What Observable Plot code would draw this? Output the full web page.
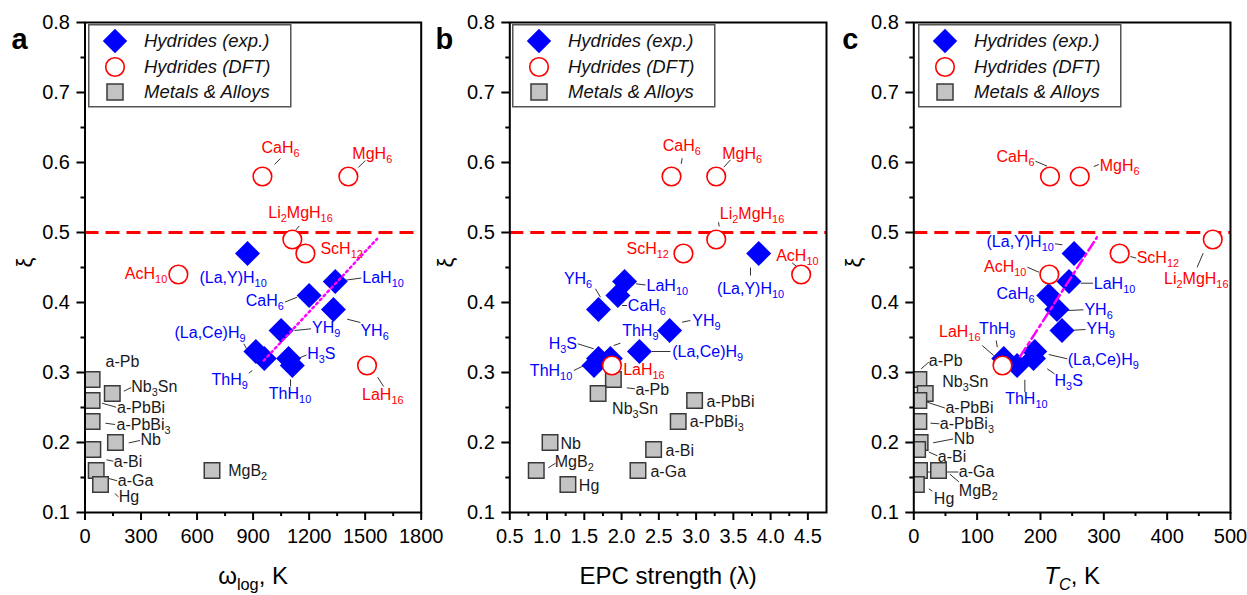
<!DOCTYPE html>
<html>
<head>
<meta charset="utf-8">
<script src="https://cdn.jsdelivr.net/npm/d3@7"></script>
<script src="https://cdn.jsdelivr.net/npm/@observablehq/plot@0.6"></script>
<style>
  html, body { margin: 0; padding: 0; background: white; }
  #wrap { position: relative; width: 1247px; height: 595px; overflow: hidden; background: white; }
</style>
</head>
<body>
<div id="wrap"></div>
<script>
// ---------- data ----------
const yTicks = [0.1, 0.2, 0.3, 0.4, 0.5, 0.6, 0.7, 0.8];
const yMinor = [0.15, 0.25, 0.35, 0.45, 0.55, 0.65, 0.75];
const omegaTicks = [0, 300, 600, 900, 1200, 1500, 1800];
const omegaMinor = [150, 450, 750, 1050, 1350, 1650];
const lambdaTicks = [0.5, 1, 1.5, 2, 2.5, 3, 3.5, 4, 4.5];
const lambdaMinor = [0.75, 1.25, 1.75, 2.25, 2.75, 3.25, 3.75, 4.25];
const tcTicks = [0, 100, 200, 300, 400, 500];
const tcMinor = [50, 150, 250, 350, 450];
const threshold = [0.5];
const legendLabels = ["Hydrides (exp.)", "Hydrides (DFT)", "Metals & Alloys"];

// Hydrides (exp.)
const expNames = ["(La,Y)H_{10}", "LaH_{10}", "CaH_{6}", "YH_{6}", "YH_{9}", "(La,Ce)H_{9}", "ThH_{9}", "H_{3}S", "ThH_{10}"];
const expXi     = [0.47, 0.43, 0.41, 0.39, 0.36, 0.33, 0.32, 0.32, 0.31];
const expOmega  = [870, 1340, 1200, 1330, 1050, 915, 960, 1090, 1110];
const expLambda = [3.84, 2.04, 1.95, 1.69, 2.645, 2.24, 1.85, 1.69, 1.63];
const expTc     = [253, 245, 213, 226, 234, 191, 142, 189, 163];

// Hydrides (DFT)
const dftNames  = ["CaH_{6}", "MgH_{6}", "Li_{2}MgH_{16}", "ScH_{12}", "AcH_{10}", "LaH_{16}"];
const dftXi     = [0.58, 0.58, 0.49, 0.47, 0.44, 0.31];
const dftOmega  = [950, 1410, 1110, 1180, 500, 1510];
const dftLambda = [2.67, 3.27, 3.27, 2.83, 4.41, 1.87];
const dftTc     = [215, 262, 472, 325, 214, 140];

// Metals & Alloys
const metNames  = ["a-Pb", "Nb_{3}Sn", "a-PbBi", "a-PbBi_{3}", "Nb", "a-Bi", "a-Ga", "Hg", "MgB_{2}"];
const metXi     = [0.29, 0.27, 0.26, 0.23, 0.20, 0.19, 0.16, 0.14, 0.16];
const metOmega  = [38, 146, 38, 38, 163, 42, 60, 83, 680];
const metLambda = [1.89, 1.685, 2.98, 2.76, 1.04, 2.43, 2.22, 1.28, 0.855];
const metTc     = [8, 18, 8, 8, 10, 6, 9, 4, 39];

// trend lines
const trendOmega = [957, 1564];
const trendOmegaXi = [0.317, 0.491];
const trendTc = [168, 289];
const trendTcXi = [0.323, 0.493];

// ---------- label placement (pixel offsets from the point: text dx,dy, anchor, leader) ----------
const layA_exp = [
  [-48, 24.7, "start", null],
  [27, -3.3, "start", [8, -1, 26, -3.5]],
  [-25.3, 5.7, "end", [-24, 6.5, -12, 1.7]],
  [27, 21, "start", [13.8, 9.7, 27, 13]],
  [31, -2.3, "start", [13.4, 0, 30, -1.7]],
  [-10.4, -18.3, "end", [-12, -7.7, -9.4, -2.7]],
  [-16.5, 21, "end", [-15.5, 14.7, -12, 12]],
  [18.6, -4.7, "start", [11, -0.7, 18, -3.5]],
  [-2.3, 28.3, "middle", [-1.8, 14, -1.8, 21]]
];
const layA_dft = [
  [-1, -29, "start", [12, -12, 18, -18]],
  [4, -23, "start", [10, -9, 17, -16]],
  [-24, -26.3, "start", [3, -9, 7, -13.6]],
  [15, -4.7, "start", null],
  [-11.2, -0.7, "end", null],
  [-5, 29.3, "start", [10.6, 11.7, 16.6, 21]]
];
const layA_met = [
  [13.4, -18, "start", null],
  [19, -6.3, "start", [11.6, -2.3, 19, -6]],
  [25, 7.7, "start", [10, 2.7, 24, 6.7]],
  [24.4, 3.3, "start", [13.3, 1.7, 23, 3]],
  [25, -2.7, "start", [13.3, 0.4, 24.5, -2]],
  [21, 12, "start", [13.7, 10.3, 20.5, 11.7]],
  [21.6, 10.7, "start", [12.6, 8, 21, 10.3]],
  [18.3, 12.7, "start", [14.3, 9, 18, 12.4]],
  [16.2, 0.7, "start", null]
];
const layB_exp = [
  [-8.2, 35.3, "middle", [-8.2, 14, -8.2, 22]],
  [22, 4, "start", [11.5, 2.3, 21, 3.5]],
  [10, 10, "start", [4.3, 10, 9.3, 10]],
  [-6.3, -30.7, "end", [-3, -20.7, 2, -12.3]],
  [22.6, -10, "start", [12.4, -8.3, 20.7, -10]],
  [32.7, 0, "start", [12.5, 0, 31, 0]],
  [11.8, -28, "start", [3.3, -13, 10, -15.3]],
  [-21.5, -14.7, "end", [-20.7, -14.7, -4.7, -9.7]],
  [-21.8, 5.7, "end", [-20.2, 5, -10, 0]]
];
const layB_dft = [
  [-8.7, -31, "start", [9.7, -12.7, 10.7, -18.3]],
  [6, -22.7, "start", [7.6, -9.3, 14.3, -16.7]],
  [3.6, -25.7, "start", [3, -13, 2.3, -17.3]],
  [-14.6, -4.7, "end", null],
  [-25, -19, "start", [-9, -11.6, -4, -7.6]],
  [11.3, 4.3, "start", null]
];
const layB_met = [
  [22, 10, "start", [13.4, 8.3, 21.5, 9.3]],
  [14, 15.3, "start", null],
  [11.9, 1.7, "start", null],
  [11.6, 0.7, "start", null],
  [10.5, 1.3, "start", null],
  [11.9, 1, "start", null],
  [12.5, 1.7, "start", null],
  [10.9, 1.7, "start", null],
  [18.5, -8.3, "start", [12, -2.7, 19.3, -7.3]]
];
const layC_exp = [
  [-20.3, -11.3, "end", [-19, -9.7, -11.6, -8.7]],
  [24.8, 2.3, "start", [11.7, 1.7, 24, 1.7]],
  [-14.2, -1.7, "end", null],
  [27.5, 0.3, "start", [10.6, 1, 26.5, 0.3]],
  [24.5, -1.7, "start", [11.5, -0.3, 23.5, -1]],
  [33, 8.3, "start", [14, 3, 32.5, 7.3]],
  [-6.5, -29.7, "middle", [-7.5, -18, -6.5, -11.3]],
  [21, 22, "start", [13.7, 10.3, 21, 15.3]],
  [9.3, 33.3, "middle", [7.8, 14.3, 7.8, 26.7]]
];
const layC_dft = [
  [-15.5, -19.3, "end", [-14.5, -15.3, -2.8, -10.3]],
  [20, -11, "start", [14, -10, 19, -12]],
  [-16.5, 39.3, "middle", [-9.6, 13.7, -15.6, 27.7]],
  [17, 4.7, "start", [10.8, 3, 16.5, 4.7]],
  [-23, -7.3, "end", [-22, -7.3, -10.5, -2.3]],
  [-22, -33.3, "end", [-20.3, -20, -8.7, -10]]
];
const layC_met = [
  [10, -19, "start", [2.3, -10.7, 9.9, -17.3]],
  [17, -11.3, "start", null],
  [26.6, 7.7, "start", [8.3, 1.7, 26, 7.5]],
  [21, 2.3, "start", [11.6, 1.7, 20.5, 2.3]],
  [33.7, -4, "start", [13, 0.3, 33, -3.5]],
  [20.2, 7, "start", [11.2, 2.5, 19.7, 6.3]],
  [39.3, 1, "start", [0, 1.5, 39, 1.5]],
  [17.5, 14.3, "start", [12.5, 4.3, 16, 6.7]],
  [20.3, 20, "start", [11.3, 3.6, 20.3, 11.3]]
];

// ---------- drawing ----------
const FONT = "'Liberation Sans', Arial, Helvetica, sans-serif";
const BLUE = "#0000ff", RED = "#ff0000", MAG = "#ff00ff";
const wrap = document.getElementById("wrap");

function rows(names, xs, xis, lay) {
  return names.map((n, i) => ({name: n, x: xs[i], y: xis[i], dx: lay[i][0], dy: lay[i][1], anchor: lay[i][2], lead: lay[i][3]}));
}

function panel(c) {
  const pw = c.width - c.ml - c.mr;
  const kx = pw / (c.xDomain[1] - c.xDomain[0]);
  const ky = 490 / 0.7;
  const exp = rows(expNames, c.expX, expXi, c.layExp);
  const dft = rows(dftNames, c.dftX, dftXi, c.layDft);
  const met = rows(metNames, c.metX, metXi, c.layMet);
  const leads = [...exp, ...dft, ...met].filter(r => r.lead);
  const labelMarks = (data, fill) => ["start", "end", "middle"].map(a =>
    Plot.text(data.filter(r => r.anchor === a), {
      x: r => r.x + r.dx / kx, y: r => r.y - r.dy / ky, text: "name",
      textAnchor: a, fill, fontSize: 16
    }));
  const trend = c.trendX.map((x, i) => ({x, y: c.trendXi[i]}));
  const svg = Plot.plot({
    width: c.width, height: 595,
    marginTop: 22, marginBottom: 83, marginLeft: c.ml, marginRight: c.mr,
    x: {domain: c.xDomain},
    y: {domain: [0.1, 0.8]},
    style: {position: "absolute", left: c.left + "px", top: "0px", overflow: "visible",
            background: "transparent", fontFamily: FONT, color: "black"},
    marks: [
      Plot.ruleY(threshold, {stroke: RED, strokeWidth: 3, strokeDasharray: "14,7"}),
      Plot.link(leads, {
        x1: r => r.x + r.lead[0] / kx, y1: r => r.y - r.lead[1] / ky,
        x2: r => r.x + r.lead[2] / kx, y2: r => r.y - r.lead[3] / ky,
        stroke: "#333", strokeWidth: 1
      }),
      Plot.dot(met, {x: "x", y: "y", symbol: "square", r: 8.75, fill: "#c3c3c3", stroke: "#3a3a3a", strokeWidth: 1.5, clip: true}),
      Plot.dot(exp, {x: "x", y: "y", symbol: "diamond2", r: 11.26, fill: BLUE}),
      Plot.dot(dft, {x: "x", y: "y", symbol: "circle", r: 9.3, fill: "white", stroke: RED, strokeWidth: 1.6}),
      Plot.line(trend, {x: "x", y: "y", stroke: MAG, strokeWidth: 2.5, strokeDasharray: c.trendDash}),
      ...labelMarks(exp, BLUE),
      ...labelMarks(dft, RED),
      ...labelMarks(met, "#1a1a1a"),
      Plot.frame({stroke: "black", strokeWidth: 2}),
      Plot.axisY(yTicks, {tickSize: 8, tickPadding: 7, fontSize: 20, tickFormat: ".1f", label: null, strokeWidth: 2}),
      Plot.axisY(yMinor, {tickSize: 4, tickFormat: () => "", label: null, strokeWidth: 2}),
      Plot.axisX(c.xTicks, {tickSize: 8, tickPadding: 8, fontSize: 20, tickFormat: c.xFmt, label: null, strokeWidth: 2}),
      Plot.axisX(c.xMinor, {tickSize: 4, tickFormat: () => "", label: null, strokeWidth: 2}),
      Plot.text([c.xLabel], {frameAnchor: "bottom", dy: 71, fontSize: 24, text: d => d, fill: "black"}),
      Plot.text(["ξ"], {frameAnchor: "left", dx: c.yLabelDx, rotate: -90, fontSize: 22, text: d => d, fill: "black"}),
      Plot.text([c.letter], {frameAnchor: "top-left", dx: c.letterDx, dy: 6, fontSize: 29, fontWeight: "bold",
                             textAnchor: "start", text: d => d, fill: "black"})
    ]
  });
  wrap.appendChild(svg);
  richText(svg);
  legend(c.legendLeft);
}

// convert "_{..}" to subscripts and "%..%" to italics
function richText(svg) {
  svg.querySelectorAll("text").forEach(t => {
    const s = t.textContent;
    if (!/_\{|%/.test(s)) return;
    const fs = parseFloat(getComputedStyle(t).fontSize) || 16;
    const shift = fs * 0.26;
    while (t.firstChild) t.removeChild(t.firstChild);
    const parts = s.split(/(_\{[^}]*\})/).filter(p => p !== "");
    let down = false;
    for (const p of parts) {
      const m = p.match(/^_\{(.*)\}$/);
      const isSub = !!m;
      const body = isSub ? m[1] : p;
      const segs = body.split(/(%[^%]*%)/).filter(q => q !== "");
      segs.forEach((q, j) => {
        const ts = document.createElementNS("http://www.w3.org/2000/svg", "tspan");
        const it = /^%.*%$/.test(q);
        ts.textContent = it ? q.slice(1, -1) : q;
        if (it) ts.setAttribute("font-style", "italic");
        if (isSub) ts.setAttribute("font-size", (fs * 0.68).toFixed(2));
        if (j === 0) {
          if (isSub && !down) { ts.setAttribute("dy", shift.toFixed(2)); down = true; }
          else if (!isSub && down) { ts.setAttribute("dy", (-shift).toFixed(2)); down = false; }
        }
        t.appendChild(ts);
      });
    }
  });
}

function legend(left) {
  const g = d3.create("svg").attr("width", 205).attr("height", 85)
    .style("position", "absolute").style("left", left + "px").style("top", "24px")
    .style("overflow", "visible").style("font-family", FONT);
  g.append("rect").attr("x", 0.75).attr("y", 0.75).attr("width", 202).attr("height", 82)
    .attr("fill", "white").attr("stroke", "#555").attr("stroke-width", 1.5);
  const ys = [17, 43, 68];
  g.append("path").attr("d", d3.symbol(d3.symbolDiamond2, Math.PI * 11 * 11)())
    .attr("transform", `translate(27,${ys[0]})`).attr("fill", BLUE);
  g.append("circle").attr("cx", 27).attr("cy", ys[1]).attr("r", 9.3)
    .attr("fill", "white").attr("stroke", RED).attr("stroke-width", 1.6);
  g.append("rect").attr("x", 19).attr("y", ys[2] - 8).attr("width", 16).attr("height", 16)
    .attr("fill", "#c3c3c3").attr("stroke", "#3a3a3a").attr("stroke-width", 1.5);
  legendLabels.forEach((l, i) => {
    g.append("text").attr("x", 56).attr("y", ys[i]).attr("dy", "0.35em")
      .attr("font-size", 18.5).attr("font-style", "italic").attr("fill", "#111").text(l);
  });
  wrap.appendChild(g.node());
}

panel({
  left: 0, width: 430, ml: 84.5, mr: 9.3, xDomain: [0, 1800],
  xTicks: omegaTicks, xMinor: omegaMinor, xFmt: "d", xLabel: "ω_{log}, K",
  expX: expOmega, dftX: dftOmega, metX: metOmega,
  layExp: layA_exp, layDft: layA_dft, layMet: layA_met,
  trendX: trendOmega, trendXi: trendOmegaXi, trendDash: "2,3.5",
  letter: "a", letterDx: -73.5, yLabelDx: -60, legendLeft: 88
});
panel({
  left: 430, width: 400, ml: 79.3, mr: 4, xDomain: [0.5, 4.75],
  xTicks: lambdaTicks, xMinor: lambdaMinor, xFmt: ".1f", xLabel: "EPC strength (λ)",
  expX: expLambda, dftX: dftLambda, metX: metLambda,
  layExp: layB_exp, layDft: layB_dft, layMet: layB_met,
  trendX: [], trendXi: [], trendDash: null,
  letter: "b", letterDx: -74.3, yLabelDx: -64, legendLeft: 511.7
});
panel({
  left: 830, width: 417, ml: 83.3, mr: 17, xDomain: [0, 500],
  xTicks: tcTicks, xMinor: tcMinor, xFmt: "d", xLabel: "%T%_{%C%}, K",
  expX: expTc, dftX: dftTc, metX: metTc,
  layExp: layC_exp, layDft: layC_dft, layMet: layC_met,
  trendX: trendTc, trendXi: trendTcXi, trendDash: "10,4,3,4",
  letter: "c", letterDx: -71.6, yLabelDx: -60, legendLeft: 918.3
});
</script>
</body>
</html>
